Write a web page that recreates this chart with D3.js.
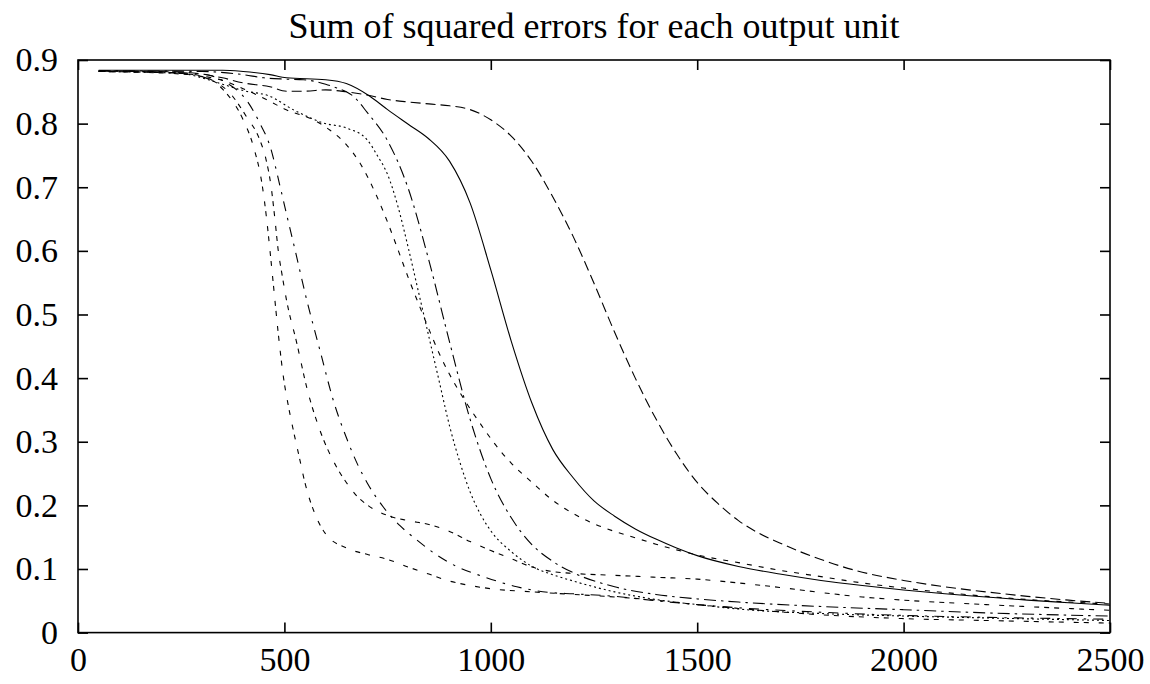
<!DOCTYPE html>
<html>
<head>
<meta charset="utf-8">
<script src="https://cdn.jsdelivr.net/npm/d3@7"></script>
<style>
  body { margin: 0; background: #fff; }
  svg { display: block; font-family: "Liberation Serif", "Times New Roman", serif; }
  .axis path { display: none; }
  .axis line { stroke: #000; stroke-width: 1.6; }
  .axis text { font-family: "Liberation Serif", "Times New Roman", serif; font-size: 34px; fill: #000; }
  .curve { fill: none; stroke: #000; stroke-width: 1.1; }
</style>
</head>
<body>
<div id="card"></div>
<script>
// tick values
const xTicks = [0, 500, 1000, 1500, 2000, 2500];
const yTicks = [0, 0.1, 0.2, 0.3, 0.4, 0.5, 0.6, 0.7, 0.8, 0.9];

// one array per output unit, [epoch, sum of squared errors]
const unit1 = [[50,0.884],[200,0.884],[350,0.884],[400,0.882],[465,0.877],[505,0.872],[600,0.869],[650,0.863],[707,0.843],[750,0.822],[800,0.799],[848,0.777],[900,0.741],[950,0.675],[1000,0.57],[1050,0.457],[1100,0.36],[1150,0.288],[1200,0.243],[1250,0.207],[1300,0.183],[1350,0.163],[1400,0.147],[1450,0.133],[1500,0.121],[1600,0.104],[1700,0.092],[1800,0.082],[1900,0.074],[2000,0.067],[2100,0.061],[2200,0.056],[2300,0.051],[2400,0.047],[2500,0.043]];
const unit2 = [[50,0.883],[250,0.881],[300,0.878],[350,0.872],[400,0.864],[465,0.858],[505,0.851],[550,0.851],[600,0.853],[650,0.85],[700,0.845],[750,0.838],[800,0.834],[850,0.831],[900,0.828],[950,0.822],[1000,0.806],[1050,0.78],[1100,0.74],[1150,0.685],[1200,0.622],[1250,0.549],[1300,0.472],[1350,0.4],[1400,0.336],[1450,0.281],[1500,0.236],[1550,0.203],[1600,0.176],[1650,0.156],[1700,0.141],[1750,0.127],[1800,0.115],[1850,0.104],[1900,0.095],[2000,0.082],[2100,0.072],[2200,0.064],[2300,0.057],[2400,0.051],[2500,0.046]];
const unit3 = [[50,0.882],[250,0.88],[300,0.875],[350,0.868],[400,0.855],[465,0.835],[500,0.823],[570,0.806],[610,0.79],[650,0.767],[683,0.738],[723,0.687],[750,0.645],[775,0.602],[800,0.558],[828,0.512],[850,0.477],[877,0.436],[900,0.406],[933,0.369],[975,0.328],[1014,0.293],[1050,0.266],[1100,0.236],[1150,0.208],[1200,0.187],[1250,0.171],[1300,0.159],[1350,0.149],[1400,0.139],[1450,0.13],[1500,0.122],[1600,0.11],[1700,0.098],[1800,0.088],[1900,0.078],[2000,0.07],[2100,0.063],[2200,0.057],[2300,0.052],[2400,0.048],[2500,0.045]];
const unit4 = [[50,0.882],[250,0.879],[300,0.872],[350,0.862],[400,0.852],[465,0.843],[521,0.822],[546,0.814],[594,0.801],[651,0.793],[700,0.775],[725,0.75],[750,0.72],[775,0.67],[800,0.605],[825,0.535],[850,0.465],[875,0.395],[900,0.325],[925,0.268],[950,0.221],[975,0.186],[1000,0.16],[1050,0.127],[1100,0.104],[1150,0.091],[1200,0.081],[1300,0.064],[1400,0.052],[1500,0.044],[1600,0.037],[1800,0.03],[2000,0.026],[2200,0.023],[2500,0.019]];
const unit5 = [[50,0.883],[300,0.882],[400,0.877],[450,0.872],[500,0.87],[546,0.869],[600,0.862],[627,0.856],[650,0.85],[667,0.843],[700,0.818],[750,0.773],[800,0.698],[850,0.585],[900,0.457],[950,0.335],[1000,0.242],[1050,0.18],[1100,0.138],[1150,0.112],[1200,0.094],[1300,0.072],[1400,0.06],[1500,0.053],[1600,0.048],[1800,0.041],[2000,0.036],[2200,0.031],[2500,0.026]];
const unit6 = [[50,0.883],[300,0.878],[360,0.864],[408,0.837],[441,0.8],[465,0.765],[490,0.7],[508,0.65],[526,0.601],[554,0.523],[586,0.444],[618,0.366],[651,0.305],[679,0.262],[700,0.236],[740,0.197],[780,0.168],[820,0.146],[869,0.122],[917,0.104],[982,0.088],[1063,0.072],[1143,0.063],[1200,0.061],[1300,0.057],[1400,0.05],[1500,0.044],[1600,0.039],[1800,0.032],[2000,0.027],[2200,0.024],[2500,0.021]];
const unit7 = [[50,0.882],[250,0.878],[312,0.872],[352,0.853],[400,0.806],[425,0.764],[447,0.7],[457,0.65],[465,0.601],[473,0.549],[485,0.471],[498,0.4],[510,0.355],[522,0.317],[538,0.27],[550,0.235],[575,0.185],[600,0.155],[650,0.133],[700,0.123],[750,0.115],[800,0.103],[850,0.092],[900,0.081],[950,0.074],[1000,0.069],[1100,0.064],[1200,0.06],[1300,0.056],[1400,0.051],[1500,0.044],[1600,0.038],[1800,0.028],[2000,0.022],[2200,0.019],[2500,0.015]];
const unit8 = [[50,0.882],[250,0.879],[320,0.869],[368,0.848],[408,0.811],[440,0.775],[455,0.745],[468,0.7],[477,0.65],[485,0.601],[495,0.56],[505,0.523],[530,0.455],[555,0.383],[585,0.32],[625,0.262],[650,0.236],[675,0.215],[700,0.201],[750,0.184],[800,0.176],[850,0.17],[900,0.159],[950,0.143],[1000,0.129],[1050,0.116],[1100,0.103],[1150,0.096],[1200,0.093],[1300,0.09],[1400,0.087],[1500,0.084],[1600,0.078],[1700,0.071],[1800,0.063],[1900,0.056],[2000,0.051],[2200,0.044],[2500,0.035]];

const series = [unit1, unit2, unit3, unit4, unit5, unit6, unit7, unit8];
// gnuplot style line types
const dashes = ["none", "10,5", "5,7", "2,3", "12,5,2.5,5", "10,7,2.5,7", "5,5,5,10", "5,5,5,5,5,10"];

const w = 1150;
const h = 684;
const margin = { top: 60, right: 40, bottom: 51.4, left: 78 };
const width = w - margin.left - margin.right;
const height = h - margin.top - margin.bottom;

const svg = d3.select("#card")
  .append("svg")
    .attr("width", w)
    .attr("height", h);

const chart = svg.append("g")
  .attr("transform", "translate(" + margin.left + "," + margin.top + ")");

const x = d3.scaleLinear().domain([0, 2500]).range([0, width]);
const y = d3.scaleLinear().domain([0, 0.9]).range([height, 0]);

//title
svg.append("text")
  .attr("x", margin.left + width / 2)
  .attr("y", 38)
  .attr("text-anchor", "middle")
  .style("font-size", "36px")
  .text("Sum of squared errors for each output unit");

//axes with inward ticks on all four sides
chart.append("g")
  .attr("class", "axis")
  .call(d3.axisLeft(y).tickValues(yTicks).tickSize(-10).tickPadding(20)
    .tickFormat(d => d === 0 ? "0" : d3.format(".1f")(d)));

chart.append("g")
  .attr("class", "axis")
  .attr("transform", "translate(" + width + ",0)")
  .call(d3.axisRight(y).tickValues(yTicks).tickSize(-10).tickFormat(""));

chart.append("g")
  .attr("class", "axis")
  .attr("transform", "translate(0," + height + ")")
  .call(d3.axisBottom(x).tickValues(xTicks).tickSize(-10).tickPadding(14)
    .tickFormat(d3.format("d")));

chart.append("g")
  .attr("class", "axis")
  .call(d3.axisTop(x).tickValues(xTicks).tickSize(-10).tickFormat(""));

//curves
const line = d3.line()
  .x(d => x(d[0]))
  .y(d => y(d[1]))
  .curve(d3.curveMonotoneX);

chart.selectAll(".curve")
  .data(series)
  .enter()
  .append("path")
    .attr("class", "curve")
    .attr("stroke-dasharray", (d, i) => dashes[i])
    .attr("d", line);

//frame
chart.append("rect")
  .attr("width", width)
  .attr("height", height)
  .attr("fill", "none")
  .attr("stroke", "#000")
  .attr("stroke-width", 1.6);
</script>
</body>
</html>
